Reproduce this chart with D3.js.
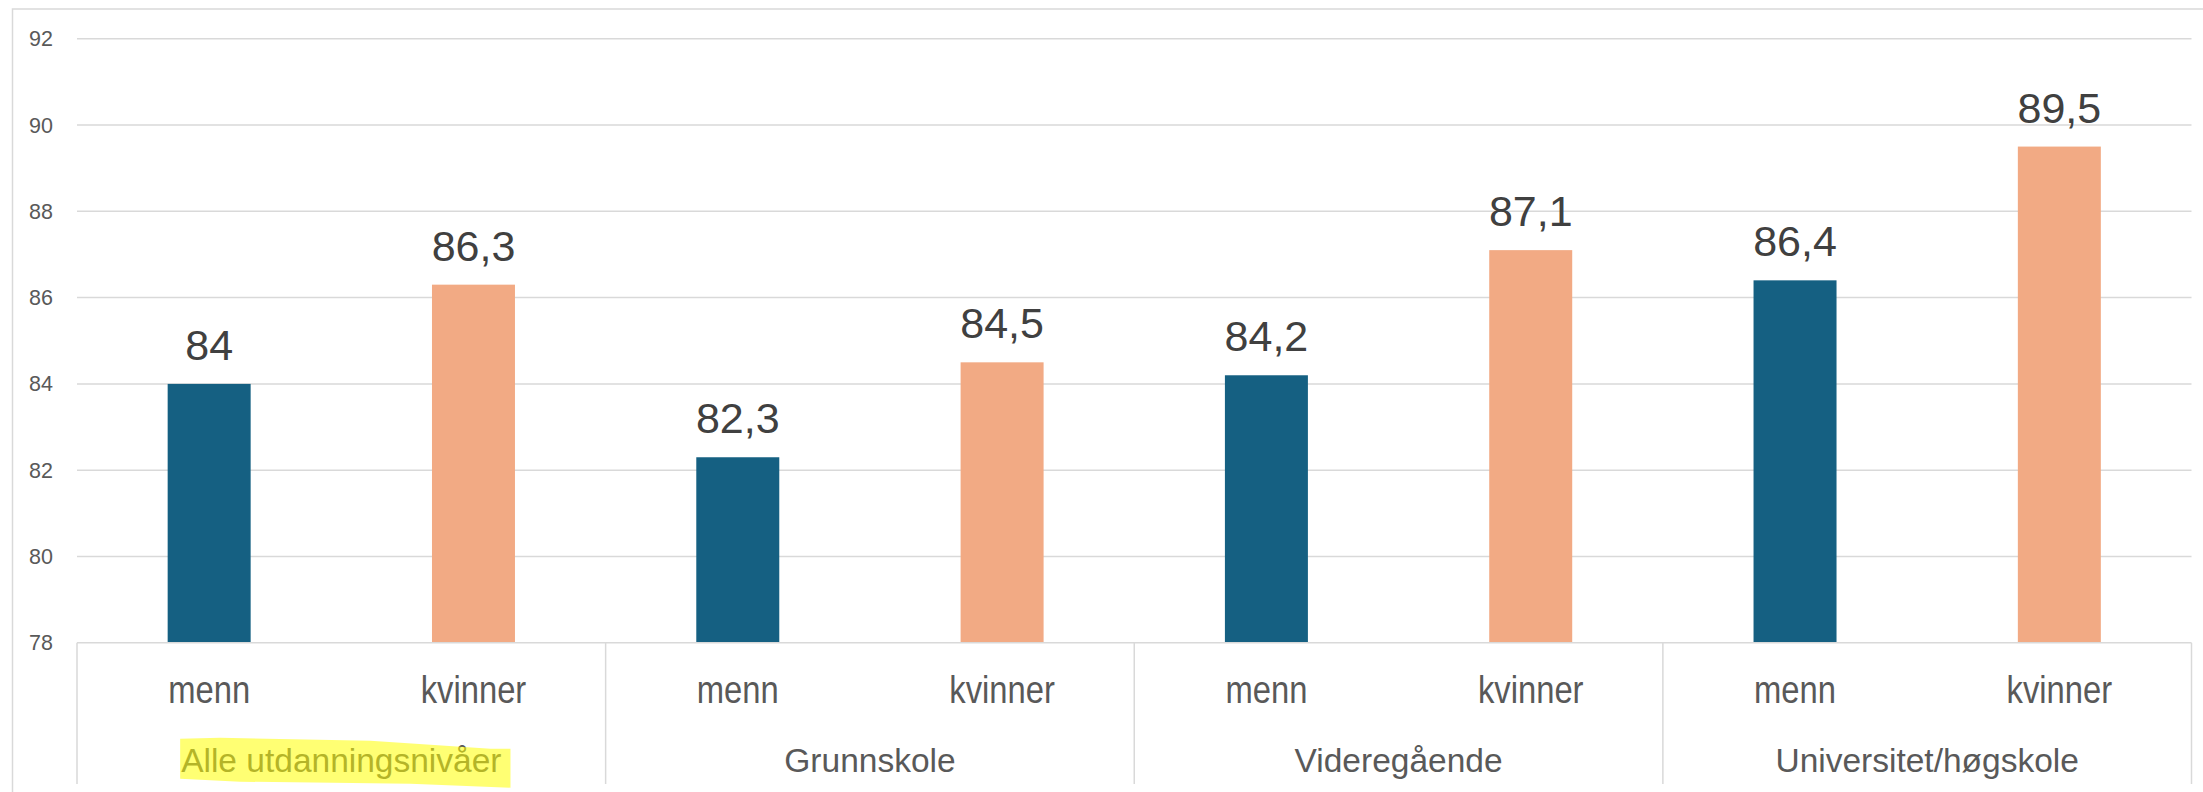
<!DOCTYPE html>
<html>
<head>
<meta charset="utf-8">
<script src="https://cdn.jsdelivr.net/npm/d3@7"></script>
<style>
  html, body { margin: 0; padding: 0; background: #fff; }
  svg { display: block; }
</style>
</head>
<body>
<div id="chart"></div>
<script>
// data
const groups = ['Alle utdanningsnivåer', 'Grunnskole', 'Videregående', 'Universitet/høgskole'];
const series = ['menn', 'kvinner'];
const menn = [84, 82.3, 84.2, 86.4];
const kvinner = [86.3, 84.5, 87.1, 89.5];
const yTicks = [78, 80, 82, 84, 86, 88, 90, 92];
const highlighted = 'Alle utdanningsnivåer';

const width = 2203;
const height = 792;
const plotLeft = 77, plotRight = 2191.5, plotTop = 38.7, plotBase = 642.8;
const colors = { menn: '#156082', kvinner: '#F2AA84' };
const grid = '#d9d9d9';

const no = d3.formatLocale({ decimal: ',', thousands: ' ', grouping: [3], currency: ['', ' kr'] });
const fmt = v => Number.isInteger(v) ? String(v) : no.format('.1f')(v);

const rows = [];
groups.forEach((g, i) => {
  rows.push({ group: g, key: 'menn', value: menn[i] });
  rows.push({ group: g, key: 'kvinner', value: kvinner[i] });
});

const svg = d3.select('#chart').append('svg')
  .attr('width', width)
  .attr('height', height);

// outer chart border
svg.append('rect')
  .attr('x', 12.5).attr('y', 9)
  .attr('width', width + 20).attr('height', height + 20)
  .attr('fill', 'none').attr('stroke', grid).attr('stroke-width', 1.5);

const y = d3.scaleLinear().domain([78, 92]).range([plotBase, plotTop]);
const x0 = d3.scaleBand().domain(groups).range([plotLeft, plotRight]).paddingInner(0).paddingOuter(0);
const x1 = d3.scaleBand().domain(series).range([0, x0.bandwidth()]).paddingInner(0.686).paddingOuter(0.343);

// gridlines
svg.append('g')
  .selectAll('line')
  .data(yTicks.slice(1))
  .enter()
  .append('line')
  .attr('x1', plotLeft).attr('x2', plotRight)
  .attr('y1', d => y(d)).attr('y2', d => y(d))
  .attr('stroke', grid).attr('stroke-width', 1.5);

// y tick labels
svg.append('g')
  .selectAll('text')
  .data(yTicks)
  .enter()
  .append('text')
  .attr('x', 53)
  .attr('y', d => y(d))
  .attr('dy', '0.35em')
  .attr('text-anchor', 'end')
  .attr('font-family', 'Liberation Sans, Arial, sans-serif')
  .attr('font-size', 21.5)
  .attr('fill', '#595959')
  .text(d => d);

// bars
const bars = svg.append('g')
  .selectAll('g')
  .data(rows)
  .enter()
  .append('g')
  .attr('transform', d => `translate(${x0(d.group) + x1(d.key)},0)`);

bars.append('rect')
  .attr('x', 0)
  .attr('y', d => y(d.value))
  .attr('width', x1.bandwidth())
  .attr('height', d => y(78) - y(d.value))
  .attr('fill', d => colors[d.key]);

bars.append('text')
  .attr('x', x1.bandwidth() / 2)
  .attr('y', d => y(d.value) - 24)
  .attr('text-anchor', 'middle')
  .attr('font-family', 'Liberation Sans, Arial, sans-serif')
  .attr('font-size', 43)
  .attr('fill', '#404040')
  .text(d => fmt(d.value));

// category axis: base line and group brackets
svg.append('line')
  .attr('x1', plotLeft).attr('x2', plotRight)
  .attr('y1', y(78)).attr('y2', y(78))
  .attr('stroke', grid).attr('stroke-width', 1.5);

const edges = groups.map(g => x0(g)).concat([x0(groups[groups.length - 1]) + x0.bandwidth()]);
svg.append('g')
  .selectAll('line')
  .data(edges)
  .enter()
  .append('line')
  .attr('x1', d => d).attr('x2', d => d)
  .attr('y1', y(78)).attr('y2', 784)
  .attr('stroke', grid).attr('stroke-width', 1.5);

// series labels (narrow face)
svg.append('g')
  .selectAll('text')
  .data(rows)
  .enter()
  .append('text')
  .attr('transform', d => `translate(${x0(d.group) + x1(d.key) + x1.bandwidth() / 2},702.7) scale(0.83,1)`)
  .attr('text-anchor', 'middle')
  .attr('font-family', 'Liberation Sans, Arial, sans-serif')
  .attr('font-size', 39.5)
  .attr('fill', '#595959')
  .text(d => d.key);

// group labels
const groupLabels = svg.append('g')
  .selectAll('text')
  .data(groups)
  .enter()
  .append('text')
  .attr('x', d => x0(d) + x0.bandwidth() / 2)
  .attr('y', 771.7)
  .attr('text-anchor', 'middle')
  .attr('font-family', 'Liberation Sans, Arial, sans-serif')
  .attr('font-size', 33.5)
  .attr('fill', '#595959')
  .text(d => d);

// marker highlight over the first group label
groupLabels.filter(d => d === highlighted).each(function () {
  const b = this.getBBox();
  const xa = b.x - 1, xb = b.x + b.width + 9;
  const t = b.y - 3, btm = b.y + b.height + 4;
  const p = d3.path();
  p.moveTo(xa, t);
  p.lineTo(xa + 40, t - 1);
  p.lineTo(xb - 140, t + 2);
  p.lineTo(xb - 20, t + 10);
  p.lineTo(xb, t + 10);
  p.lineTo(xb, btm + 5);
  p.lineTo(xb - 100, btm + 1);
  p.lineTo(xa + 60, btm - 1);
  p.lineTo(xa, btm - 4);
  p.closePath();
  svg.append('path')
    .attr('d', p.toString())
    .attr('fill', '#ffff00')
    .attr('fill-opacity', 0.55);
});
</script>
</body>
</html>
